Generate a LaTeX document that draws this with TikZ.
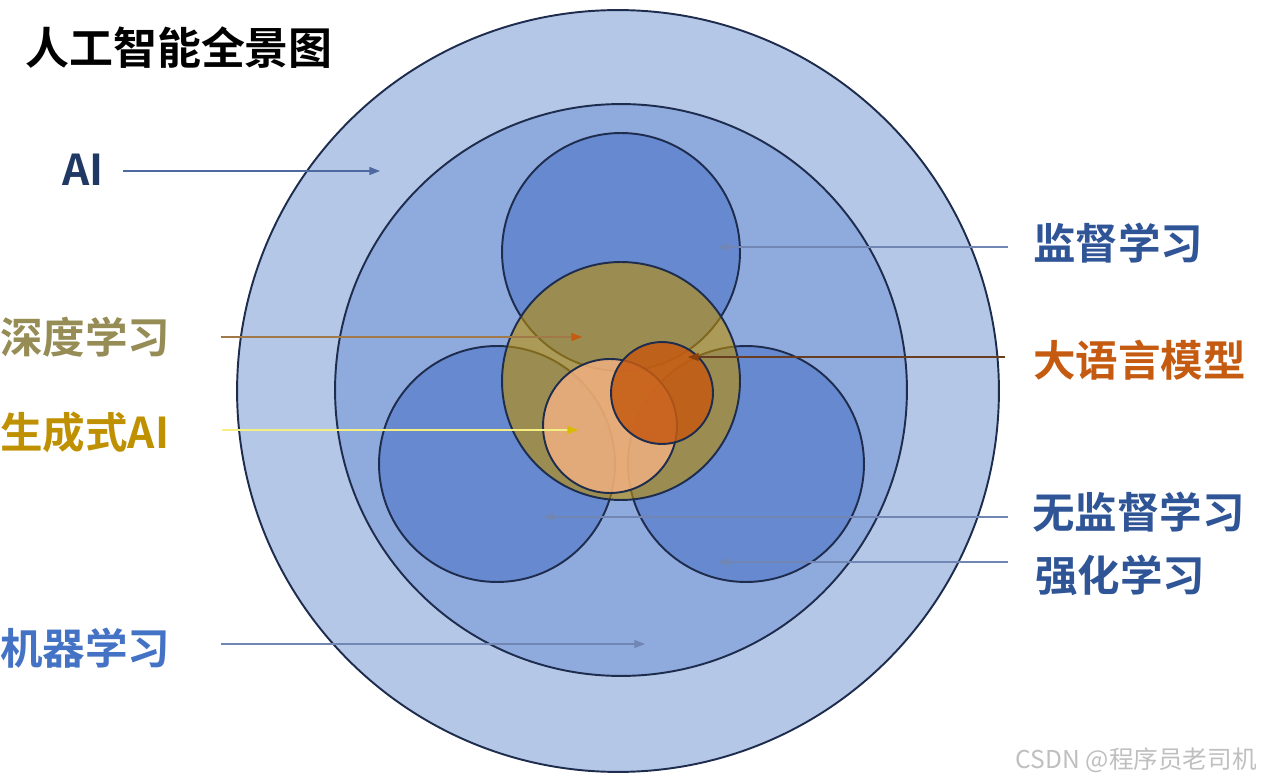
\documentclass[tikz,border=0pt]{standalone}
\usepackage{fontspec}
\setmainfont{Noto Sans CJK SC}[BoldFont={Noto Sans CJK SC Bold}]
\usetikzlibrary{arrows.meta, positioning}

\definecolor{ringline}{HTML}{1E2C4E}
\definecolor{aifill}{HTML}{B4C7E7}
\definecolor{mlfill}{HTML}{8FAADC}
\definecolor{subfill}{HTML}{6689CF}
\definecolor{dlfill}{HTML}{BF9000}
\definecolor{genfill}{HTML}{F4B183}
\definecolor{llmfill}{HTML}{C55A11}
\definecolor{navy}{HTML}{1F3864}
\definecolor{darkblue}{HTML}{2F5597}
\definecolor{midblue}{HTML}{4472C4}
\definecolor{khaki}{HTML}{968C55}
\definecolor{gold}{HTML}{BF9000}
\definecolor{rust}{HTML}{C55A11}
\definecolor{pointblue}{HTML}{4E68A0}

\begin{document}
\begin{tikzpicture}[x=0.02cm, y=-0.02cm]
	\tikzstyle{ring}=[circle, draw=ringline, line width=1.1pt, inner sep=0pt]
\tikzstyle{tag}=[anchor=west, inner sep=0pt, font=\bfseries\fontsize{24.2}{29}\selectfont]
\tikzstyle{connect}=[-{Triangle[length=6pt, width=4.5pt]}, line width=0.6pt]
\useasboundingbox (0,0) rectangle (1261,780);
% nested regions
\node[ring, fill=aifill, minimum size=15.24cm] (ai) at (618,391) {};
\node[ring, fill=mlfill, minimum size=11.44cm] (ml) at (621,390) {};
\node[ring, fill=subfill, minimum size=4.76cm] (sup) at (621,252) {};
\node[ring, fill=subfill, minimum size=4.72cm] (unsup) at (497,464) {};
\node[ring, fill=subfill, minimum size=4.72cm] (rl) at (746,464) {};
\node[ring, fill=dlfill, fill opacity=0.6, minimum size=4.76cm] (dl) at (621,381) {};
\node[ring, fill=genfill, fill opacity=0.8, minimum size=2.68cm] (gen) at (610,426) {};
\node[ring, fill=llmfill, fill opacity=0.85, minimum size=2.04cm] (llm) at (662,393) {};
% labels
\node[anchor=west, inner sep=0pt, font=\bfseries\fontsize{25}{30}\selectfont] (title) at (25,48) {人工智能全景图};
\node[tag, text=navy] (lblai) at (62,170) {AI};
\node[tag, text=khaki] (lbldl) at (0,337) {深度学习};
\node[tag, text=gold] (lblgen) at (0,432) {生成式AI};
\node[tag, text=midblue] (lblml) at (0,648) {机器学习};
\node[tag, text=darkblue] (lblsup) at (1033,243) {监督学习};
\node[tag, text=rust] (lblllm) at (1033,360) {大语言模型};
\node[tag, text=darkblue] (lblunsup) at (1032,512) {无监督学习};
\node[tag, text=darkblue] (lblrl) at (1035,575) {强化学习};
\node[anchor=east, inner sep=0pt, text=black!25, font=\fontsize{14}{16}\selectfont] (mark) at (1257,760) {CSDN @程序员老司机};
% arrow heads
\coordinate (ptai) at (380,171);
\coordinate (ptdl) at (582,337);
\coordinate (ptgen) at (578,430);
\coordinate (ptml) at (645,644);
\coordinate (ptsup) at (718,247);
\coordinate (ptllm) at (688,357);
\coordinate (ptunsup) at (543,517);
\coordinate (ptrl) at (718,562);
\path (lblai.east |- ptai) edge [connect, draw=pointblue, shorten <=0.38cm] (ptai)
      (lbldl.east |- ptdl) edge [-{Triangle[length=6pt, width=4.5pt, fill=rust, color=rust]}, line width=0.6pt, draw=khaki!60!rust!80!gray, shorten <=1cm] (ptdl)
      (lblgen.east |- ptgen) edge [-{Triangle[length=6pt, width=4.5pt, fill=gold!60!yellow, color=gold!60!yellow]}, line width=0.6pt, draw=gold!30!yellow!50!white, shorten <=1.05cm] (ptgen)
      (lblml.east |- ptml) edge [connect, draw=pointblue!80, shorten <=1cm] (ptml)
      (lblsup.west |- ptsup) edge [connect, draw=pointblue!80, shorten <=0.5cm] (ptsup)
      (lblllm.west |- ptllm) edge [-{Triangle[length=6pt, width=4.5pt, fill=rust!70!black, color=rust!70!black]}, line width=0.6pt, draw=rust!50!black!80!gray, shorten <=0.56cm] (ptllm)
      (lblunsup.west |- ptunsup) edge [connect, draw=pointblue!80, shorten <=0.48cm] (ptunsup)
      (lblrl.west |- ptrl) edge [connect, draw=pointblue!80, shorten <=0.54cm] (ptrl);
\end{tikzpicture}
\end{document}
